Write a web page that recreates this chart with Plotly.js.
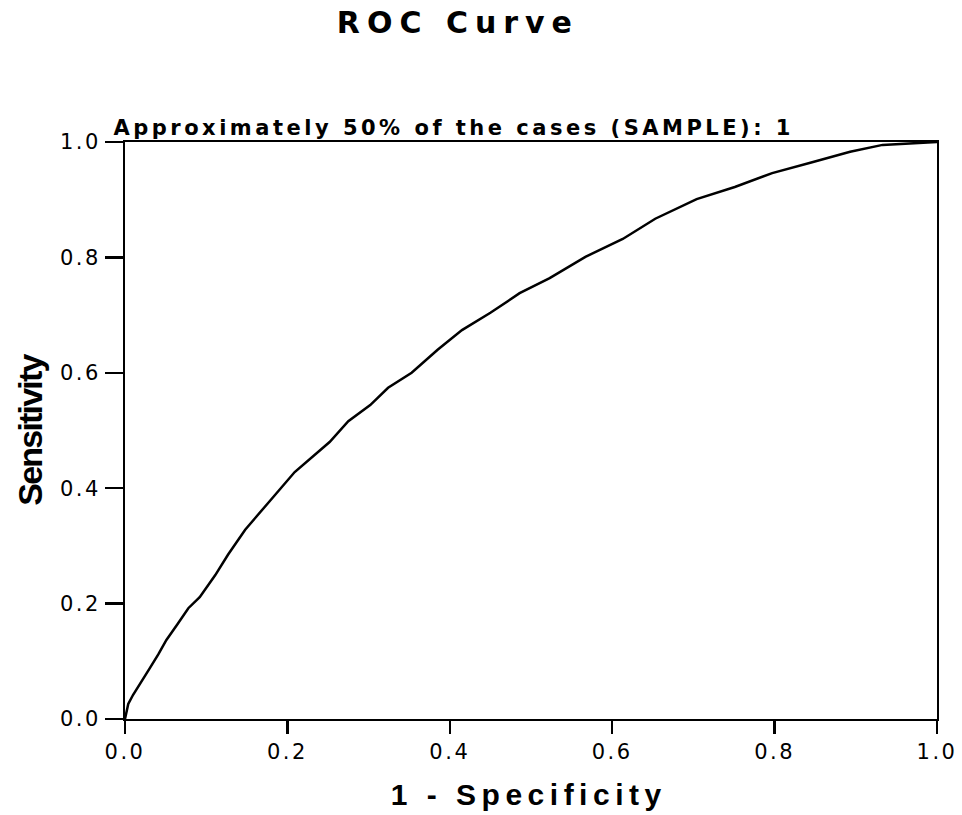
<!DOCTYPE html>
<html>
<head>
<meta charset="utf-8">
<script src="https://cdn.plot.ly/plotly-3.0.1.min.js"></script>
<style>
html,body{margin:0;padding:0;background:#fff;}
#chart{width:962px;height:815px;}
#chart .gtitle{letter-spacing:7px;}
#chart .xtick text, #chart .ytick text{letter-spacing:2.5px;}
#chart .annotation[data-index="0"] .annotation-text{letter-spacing:3.5px;}
#chart .annotation[data-index="1"] .annotation-text{letter-spacing:5.5px;}
#chart .annotation[data-index="2"] .annotation-text{letter-spacing:-1.8px;}
</style>
</head>
<body>
<div id="chart"></div>
<script>
const fpr = [0, 0.002, 0.004, 0.010, 0.018, 0.030, 0.041, 0.051, 0.065, 0.078, 0.092, 0.111, 0.127, 0.148, 0.176, 0.209, 0.252, 0.275, 0.302, 0.324, 0.353, 0.385, 0.415, 0.450, 0.486, 0.523, 0.567, 0.613, 0.653, 0.704, 0.751, 0.797, 0.844, 0.893, 0.933, 1.0];
const tpr = [0, 0.015, 0.026, 0.042, 0.061, 0.087, 0.112, 0.137, 0.165, 0.192, 0.211, 0.249, 0.285, 0.328, 0.374, 0.428, 0.480, 0.516, 0.544, 0.574, 0.600, 0.640, 0.674, 0.704, 0.738, 0.764, 0.801, 0.832, 0.867, 0.901, 0.922, 0.946, 0.964, 0.983, 0.995, 1.0];
const tickVals = [0, 0.2, 0.4, 0.6, 0.8, 1.0];
const tickText = ["0.0", "0.2", "0.4", "0.6", "0.8", "1.0"];
const chartTitle = "ROC Curve";
const subTitle = "Approximately 50% of the cases (SAMPLE): 1";
const xTitle = "1 - Specificity";
const yTitle = "Sensitivity";

const trace = {
  x: fpr, y: tpr, type: 'scatter', mode: 'lines',
  line: {color: '#000', width: 2.5, shape: 'linear'},
  hoverinfo: 'skip', showlegend: false
};

const axisCommon = {
  range: [0, 1], showgrid: false, zeroline: false,
  showline: true, mirror: true, linecolor: '#000', linewidth: 2,
  ticks: 'outside', tickwidth: 2.5, tickcolor: '#000',
  tickvals: tickVals, ticktext: tickText,
  tickfont: {family: 'DejaVu Sans, Liberation Sans, sans-serif', size: 21, color: '#000'},
  fixedrange: true
};

const layout = {
  width: 962, height: 815,
  margin: {l: 125, r: 25, t: 142, b: 96},
  paper_bgcolor: '#fff', plot_bgcolor: '#fff',
  title: {
    text: chartTitle,
    font: {family: 'DejaVu Sans, Liberation Sans, sans-serif', size: 30, color: '#000', weight: 'bold'},
    xref: 'container', x: 0.476, xanchor: 'center',
    yref: 'container', y: 0.972, yanchor: 'middle'
  },
  xaxis: Object.assign({}, axisCommon, {ticklen: 13}),
  yaxis: Object.assign({}, axisCommon, {ticklen: 18}),
  annotations: [
    {
      text: subTitle,
      xref: 'paper', yref: 'paper', x: 0.404, y: 1, xanchor: 'center', yanchor: 'bottom',
      yshift: 0, showarrow: false,
      font: {family: 'DejaVu Sans, Liberation Sans, sans-serif', size: 21, color: '#000', weight: 'bold'}
    },
    {
      text: xTitle,
      xref: 'paper', yref: 'paper', x: 0.4975, y: -0.1317, xanchor: 'center', yanchor: 'middle',
      showarrow: false,
      font: {family: 'Liberation Sans, Arial, sans-serif', size: 30, color: '#000', weight: 'bold'}
    },
    {
      text: yTitle, textangle: -90,
      xref: 'paper', yref: 'paper', x: -0.1182, y: 0.5, xanchor: 'center', yanchor: 'middle',
      showarrow: false,
      font: {family: 'Liberation Sans, Arial, sans-serif', size: 34, color: '#000', weight: 'bold'}
    }
  ]
};

Plotly.newPlot('chart', [trace], layout, {displayModeBar: false, staticPlot: true});
</script>
</body>
</html>
